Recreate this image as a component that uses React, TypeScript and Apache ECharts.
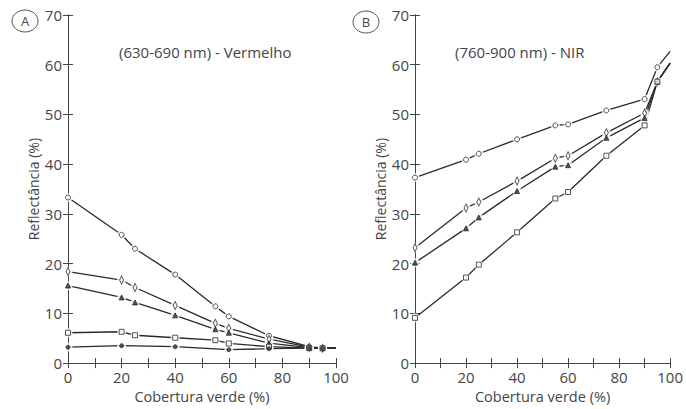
import React, { useEffect, useRef } from "react";
import * as echarts from "echarts";

// ---- data ----
const xA = [0, 20, 25, 40, 55, 60, 75, 90, 95, 100];
const aCircle = [33.3, 25.8, 23.0, 17.8, 11.4, 9.4, 5.5, 3.3, 3.0, 3.0];
const aDiamond = [18.4, 16.7, 15.2, 11.6, 8.0, 7.0, 4.8, 3.2, 3.0, 3.0];
const aTriangle = [15.6, 13.2, 12.2, 9.6, 6.8, 6.1, 4.0, 3.1, 3.0, 3.0];
const aSquare = [6.1, 6.3, 5.6, 5.1, 4.6, 3.95, 3.3, 3.0, 3.0, 3.0];
const xADot = [0, 20, 40, 60, 75, 90, 95, 100];
const aDot = [3.2, 3.5, 3.3, 2.7, 2.9, 3.0, 3.0, 3.0];

const xB = [0, 20, 25, 40, 55, 60, 75, 90, 95, 100];
const bCircle = [37.3, 40.9, 42.1, 45.0, 47.8, 48.0, 50.8, 53.1, 59.5, 62.7];
const bDiamond = [23.2, 31.2, 32.4, 36.6, 41.2, 41.7, 46.3, 50.3, 56.6, 60.3];
const bTriangle = [20.2, 27.1, 29.3, 34.6, 39.5, 39.8, 45.3, 49.3, 56.6, 60.3];
const bSquare = [9.1, 17.2, 19.8, 26.3, 33.1, 34.4, 41.7, 47.8, 56.6, 60.3];

const xTicks = [0, 20, 40, 60, 80, 100];
const yTicks = [0, 10, 20, 30, 40, 50, 60, 70];

const titleA = "(630-690 nm) - Vermelho";
const titleB = "(760-900 nm) - NIR";
const xName = "Cobertura verde (%)";
const yName = "Reflectância (%)";

const FONT = "Open Sans";
const INK = "#454545";
const LINE = "#2a2a2a";

function pairs(xs: number[], ys: number[]) {
  return xs.map((x, i) => [x, ys[i]]);
}
function markerPairs(xs: number[], ys: number[]) {
  // the point at x = 100 is only the line's end, no marker
  return xs.map((x, i) => [x, ys[i]]).filter((p) => p[0] < 100);
}

export default function App() {
  const ref = useRef<HTMLDivElement>(null);
  useEffect(() => {
    document.body.style.margin = "0";
    if (!ref.current) return;
    const chart = echarts.init(ref.current, null, { renderer: "svg" });

    const mkX = (gi: number, bottom: boolean) => ({
      type: "value",
      gridIndex: gi,
      position: bottom ? "bottom" : "top",
      min: 0,
      max: 100,
      interval: 10,
      axisLine: { show: true, lineStyle: { color: "#444", width: 1 } },
      axisTick: { show: true, inside: true, length: 5, lineStyle: { color: "#444" } },
      splitLine: { show: false },
      axisLabel: bottom
        ? {
            show: true,
            margin: 6,
            fontSize: 15,
            fontFamily: FONT,
            color: INK,
            formatter: (v: number) => (xTicks.indexOf(v) >= 0 ? String(v) : ""),
          }
        : { show: false },
      name: bottom ? xName : "",
      nameLocation: "middle",
      nameGap: 23,
      nameTextStyle: { fontSize: 14.5, fontFamily: FONT, color: INK },
    });
    const mkY = (gi: number, left: boolean) => ({
      type: "value",
      gridIndex: gi,
      position: left ? "left" : "right",
      min: 0,
      max: 70,
      interval: 10,
      axisLine: { show: true, lineStyle: { color: "#444", width: 1 } },
      axisTick: { show: true, inside: true, length: 5, lineStyle: { color: "#444" } },
      splitLine: { show: false },
      axisLabel: left
        ? {
            show: true,
            margin: 6,
            fontSize: 15,
            fontFamily: FONT,
            color: INK,
            formatter: (v: number) => (yTicks.indexOf(v) >= 0 ? String(v) : ""),
          }
        : { show: false },
      name: left ? yName : "",
      nameLocation: "middle",
      nameGap: 26,
      nameTextStyle: { fontSize: 14, fontFamily: FONT, color: INK },
    });

    const series: any[] = [];
    const addSeries = (
      gi: number,
      xs: number[],
      ys: number[],
      symbol: string,
      size: any,
      filled: boolean
    ) => {
      series.push({
        type: "line",
        xAxisIndex: gi * 2,
        yAxisIndex: gi * 2,
        data: pairs(xs, ys),
        showSymbol: false,
        symbol: "none",
        lineStyle: { color: LINE, width: 1.3 },
        z: 2,
        silent: true,
      });
      series.push({
        type: "scatter",
        xAxisIndex: gi * 2,
        yAxisIndex: gi * 2,
        data: markerPairs(xs, ys),
        symbol: "circle",
        symbolSize: 9,
        itemStyle: { color: "#ffffff", borderWidth: 0 },
        z: 3,
        silent: true,
      });
      series.push({
        type: "scatter",
        xAxisIndex: gi * 2,
        yAxisIndex: gi * 2,
        data: markerPairs(xs, ys),
        symbol,
        symbolSize: size,
        itemStyle: {
          color: filled ? LINE : "#ffffff",
          borderColor: LINE,
          borderWidth: 1,
        },
        z: 4,
        silent: true,
      });
    };

    addSeries(0, xA, aCircle, "circle", 5, false);
    addSeries(0, xA, aDiamond, "diamond", [4, 8], false);
    addSeries(0, xA, aTriangle, "triangle", 5, true);
    addSeries(0, xA, aSquare, "rect", 5, false);
    addSeries(0, xADot, aDot, "circle", 4, true);

    addSeries(1, xB, bCircle, "circle", 5, false);
    addSeries(1, xB, bDiamond, "diamond", [4, 8], false);
    addSeries(1, xB, bTriangle, "triangle", 5, true);
    addSeries(1, xB, bSquare, "rect", 5, false);

    const badge = (cx: number, cy: number, letter: string) => ({
      type: "group",
      children: [
        {
          type: "ellipse",
          shape: { cx, cy, rx: 13, ry: 11 },
          style: { fill: "#fff", stroke: "#555", lineWidth: 1 },
        },
        {
          type: "text",
          x: cx,
          y: cy,
          style: {
            text: letter,
            fontSize: 13,
            fontFamily: FONT,
            fill: INK,
            textAlign: "center",
            textVerticalAlign: "middle",
          },
        },
      ],
    });

    chart.setOption({
      animation: false,
      backgroundColor: "#ffffff",
      grid: [
        { left: 68, top: 15, width: 268, height: 356 },
        { left: 415, top: 15, width: 268, height: 356 },
      ],
      xAxis: [mkX(0, true), mkX(0, false), mkX(1, true), mkX(1, false)],
      yAxis: [mkY(0, true), mkY(0, false), mkY(1, true), mkY(1, false)],
      series,
      graphic: [
        badge(25, 21, "A"),
        badge(366, 22, "B"),
        {
          type: "text",
          x: 119,
          y: 52,
          style: {
            text: titleA,
            fontSize: 15,
            fontFamily: FONT,
            fill: INK,
            textVerticalAlign: "middle",
          },
        },
        {
          type: "text",
          x: 455,
          y: 52,
          style: {
            text: titleB,
            fontSize: 15,
            fontFamily: FONT,
            fill: INK,
            textVerticalAlign: "middle",
          },
        },
      ],
    });
    return () => chart.dispose();
  }, []);
  return <div ref={ref} style={{ width: 686, height: 409 }} />;
}
